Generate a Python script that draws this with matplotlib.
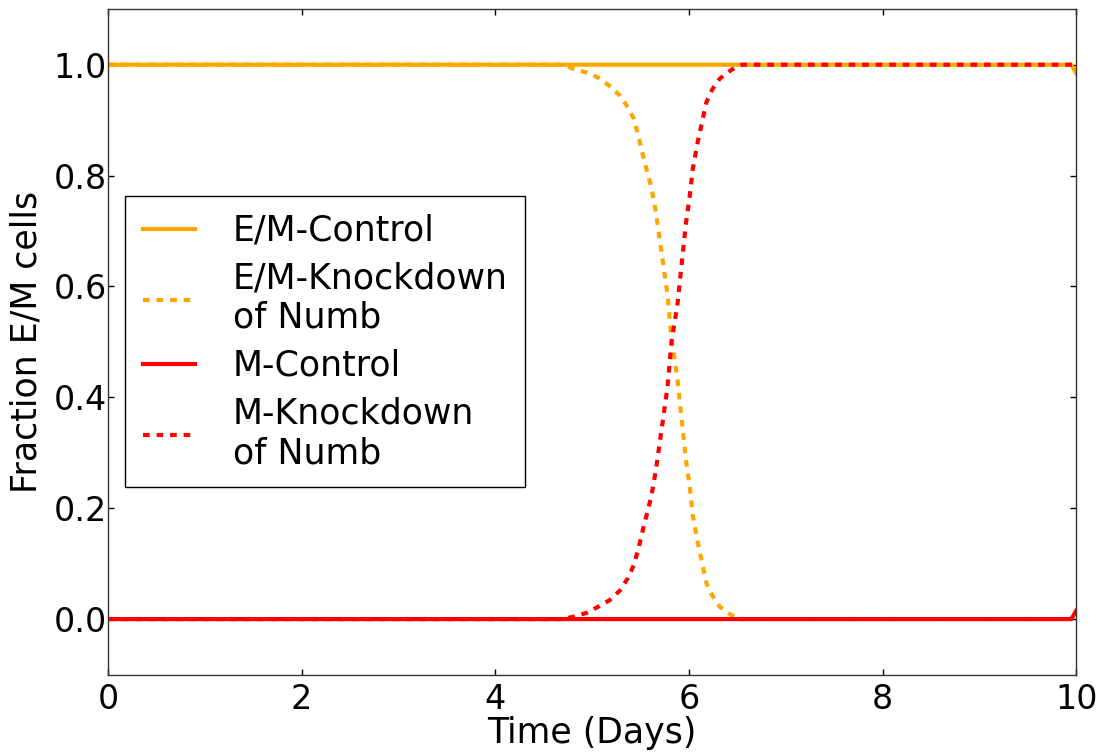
import matplotlib
matplotlib.use('Agg')
import matplotlib.pyplot as plt

# control runs (flat, small step right at the end)
t_ctrl = [0.0, 9.95, 10.0]
em_ctrl = [1.0, 1.0, 0.985]
m_ctrl = [0.0, 0.0, 0.015]

# knockdown of Numb runs
t_kd = [0.0, 4.70, 4.80, 4.94, 5.06, 5.18, 5.29, 5.37, 5.43, 5.48,
        5.53, 5.61, 5.66, 5.70, 5.74, 5.78, 5.82, 5.88, 5.91, 5.94,
        5.97, 6.01, 6.04, 6.09, 6.15, 6.18, 6.24, 6.32, 6.44, 6.55, 10.0]
em_kd = [1.0, 1.0, 0.993, 0.986, 0.977, 0.962, 0.944, 0.923, 0.903, 0.87,
         0.833, 0.78, 0.733, 0.683, 0.633, 0.584, 0.505, 0.436, 0.385, 0.336,
         0.286, 0.237, 0.187, 0.139, 0.09, 0.065, 0.043, 0.022, 0.007, 0.0, 0.0]
m_kd = [0.0, 0.0, 0.004, 0.011, 0.022, 0.034, 0.052, 0.074, 0.097, 0.128,
        0.165, 0.22, 0.27, 0.32, 0.37, 0.42, 0.5, 0.565, 0.615, 0.665,
        0.715, 0.765, 0.812, 0.86, 0.908, 0.932, 0.955, 0.975, 0.991, 1.0, 1.0]

x_ticks = [0, 2, 4, 6, 8, 10]
y_ticks = [0.0, 0.2, 0.4, 0.6, 0.8, 1.0]

dots = (0, (1.6, 1.65))

fig = plt.figure(figsize=(11.06, 7.55), dpi=100)
ax = fig.add_axes([0.0977, 0.1066, 0.8753, 0.8811])

ax.plot(t_ctrl, em_ctrl, color='orange', lw=3, label='E/M-Control')
ax.plot(t_kd, em_kd, color='orange', lw=3, ls=dots, label='E/M-Knockdown\nof Numb')
ax.plot(t_ctrl, m_ctrl, color='red', lw=3, label='M-Control')
ax.plot(t_kd, m_kd, color='red', lw=3, ls=dots, label='M-Knockdown\nof Numb')

ax.set_xlim(0, 10)
ax.set_ylim(-0.1, 1.1)
ax.set_xticks(x_ticks)
ax.set_yticks(y_ticks)
ax.tick_params(direction='in', length=4, width=1, top=True, right=True,
               labelsize=24)
ax.tick_params(axis='x', pad=6)
ax.tick_params(axis='y', pad=1)
for s in ax.spines.values():
    s.set_linewidth(1)
    s.set_color('#333333')

ax.set_xlabel('Time (Days)', fontsize=25, labelpad=0)
ax.set_ylabel('Fraction E/M cells', fontsize=25, labelpad=7)

leg = ax.legend(loc='center left', fontsize=25, fancybox=False,
                edgecolor='black', framealpha=1, handlelength=1.5,
                handletextpad=1.1, borderpad=0.5, labelspacing=0.4)
leg.get_frame().set_linewidth(1)

fig.savefig('out.png', dpi=100)
